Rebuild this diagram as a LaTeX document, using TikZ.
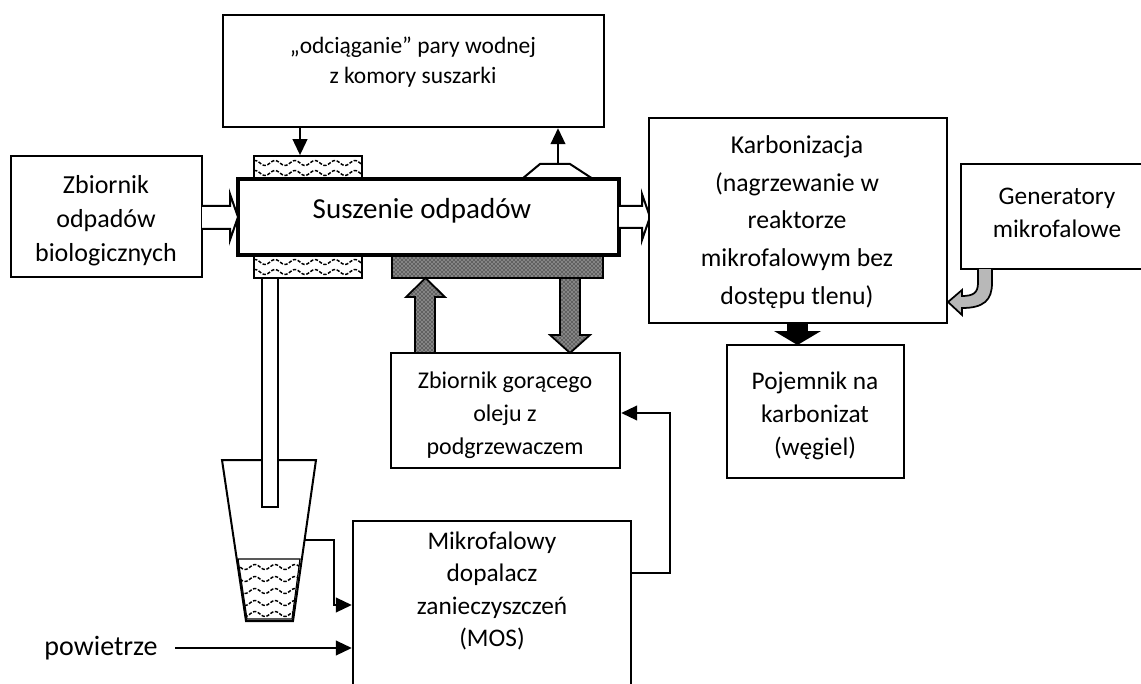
\documentclass[tikz,border=0pt]{standalone}
\usepackage{fontspec}
\setmainfont{Carlito}
\usetikzlibrary{arrows.meta,patterns,fit}
\newcommand\fsz[2]{\fontsize{#1}{#2}\selectfont}
\begin{document}
\begin{tikzpicture}[x=0.75pt,y=-0.75pt,
  box/.style={draw, line width=1.8pt, inner sep=0pt, fill=white},
  lbl/.style={align=center, inner sep=0pt},
  conn/.style={line width=1.5pt, -{Triangle[length=12pt,width=11pt]}},
  dark/.style={draw, line width=1.3pt, preaction={fill=black!62}, pattern=crosshatch dots, pattern color=white},
  openarrow/.style={draw, line width=1.5pt, fill=white},
  wave/.style={line width=1.1pt, dash pattern=on 2.5pt off 1.2pt},
]
\useasboundingbox (0,0) rectangle (1141,684);
\clip (0,0) rectangle (1141,684);

% --- boxes
\node[box, fit={(223,15) (604,127)}] (top) {};
\node[lbl, font=\fsz{17.6}{22.5}] (topT) at (413,62) {„odciąganie” pary wodnej\\z komory suszarki};

\node[box, fit={(11,156) (202,277)}] (zb) {};
\node[lbl, font=\fsz{19.5}{25.5}] (zbT) at (106,221) {Zbiornik\\odpadów\\biologicznych};

% wave rectangles
\node[draw, line width=1.3pt, inner sep=0pt, fit={(254,156) (362,179)}] (wtop) {};
\node[draw, line width=1.3pt, inner sep=0pt, fit={(254,255) (362,278)}] (wbot) {};
\begin{scope}
  \clip (254,156) rectangle (362,179);
  \foreach \yy in {163,173}
    \draw[wave] plot[domain=254:362, samples=80] (\x, {\yy + 2.5*sin(\x*18)});
\end{scope}
\begin{scope}
  \clip (254,255) rectangle (362,278);
  \foreach \yy in {262,272}
    \draw[wave] plot[domain=254:362, samples=80] (\x, {\yy + 2.5*sin(\x*18)});
\end{scope}

% dark hatched rectangle
\node[dark, inner sep=0pt, fit={(392,255) (603,278)}] (oil) {};

% main dryer box
\node[draw, line width=2.7pt, fill=white, inner sep=0pt, fit={(238,179) (619,255)}] (dry) {};
\node[lbl, font=\fsz{21.75}{26}] (dryT) at (422,211) {Suszenie odpadów};

% vent
\draw[line width=1.5pt] (522,179) -- (540,164) -- (570,164) -- (593,179);
\coordinate (vent) at (558,164);
\draw[conn] (vent) -- (vent |- top.south);
\draw[conn] ([xshift=-6pt]wtop.north |- top.south) -- ([xshift=-6pt]wtop.north);

% open arrows
\draw[openarrow] (202,206) -- (230,206) -- (230,194) -- (238,217) -- (230,240) -- (230,229) -- (202,229);
\draw[openarrow] (619,206) -- (642,206) -- (642,194) -- (650,217) -- (642,240) -- (642,228) -- (619,228);

% Karbonizacja
\node[box, fit={(649,118) (947,323)}] (karb) {};
\node[lbl, font=\fsz{19.3}{28.3}] (karbT) at (797,222) {Karbonizacja\\(nagrzewanie w\\reaktorze\\mikrofalowym bez\\dostępu tlenu)};

% Generatory
\node[box, fit={(961,164) (1160,269)}] (gen) {};
\node[lbl, font=\fsz{19}{24.75}] (genT) at (1057,213) {Generatory\\mikrofalowe};

% gray curved arrow
\draw[line width=1.3pt, fill=black!28] (978,269) -- (978,283) .. controls (978,293) and (973,296) .. (962,296)
  -- (962,290) -- (948,302) -- (962,315) -- (962,308) .. controls (984,308) and (992,300) .. (992,283) -- (992,269);

% Pojemnik
\node[box, fit={(727,345) (904,478)}] (poj) {};
\node[lbl, font=\fsz{19}{24.75}] (pojT) at (815,416) {Pojemnik na\\karbonizat\\(węgiel)};
\fill (787,323) rectangle (808,332);
\fill (774,331) -- (821,331) -- (797.5,345) -- cycle;

% Zbiornik goracego oleju
\node[box, fit={(391,353) (620,468)}] (oilT) {};
\node[lbl, font=\fsz{18}{24.75}] (oilTT) at (505,415) {Zbiornik gorącego\\oleju z\\podgrzewaczem};

% hatched block arrows
\draw[dark] (415,353) -- (415,297) -- (406,297) -- (425.5,278) -- (445,297) -- (435,297) -- (435,353) -- cycle;
\draw[dark] (560,278) -- (560,335) -- (550,335) -- (570,353) -- (590,335) -- (580,335) -- (580,278) -- cycle;

% funnel (cyclone)
\draw[line width=1.5pt, fill=white] (222,460) -- (316,460) -- (293,621) -- (246,621) -- cycle;
\draw[line width=0.9pt] (238,559) -- (300,559) -- (292,619) -- (247,619) -- cycle;
\begin{scope}
  \clip (238,559) -- (300,559) -- (292,619) -- (247,619) -- cycle;
  \foreach \yy in {567,579,591,603,614}
    \draw[wave] plot[domain=236:302, samples=60] (\x, {\yy + 2.5*sin(\x*18)});
\end{scope}
\node[draw, line width=1.5pt, fill=white, inner sep=0pt, fit={(262,278) (278,507)}] (tube) {};

% MOS
\node[box, fit={(353,521) (631,700)}] (mos) {};
\node[lbl, font=\fsz{19}{24.2}] (mosT) at (492,591) {Mikrofalowy\\dopalacz\\zanieczyszczeń\\(MOS)};

\coordinate (outlet) at (304,540);
\draw[conn] (outlet) -- (334,540) -- (334,605) -- (mos.west |- 0,605);
\node[lbl, font=\fsz{21}{24}] (air) at (101,648) {powietrze};
\coordinate (airS) at (175,648);
\draw[conn] (airS) -- (mos.west |- airS);
\draw[conn] (mos.east |- 0,573) -- (670,573) -- (670,413) -- (oilT.east |- 0,413);

\end{tikzpicture}
\end{document}
